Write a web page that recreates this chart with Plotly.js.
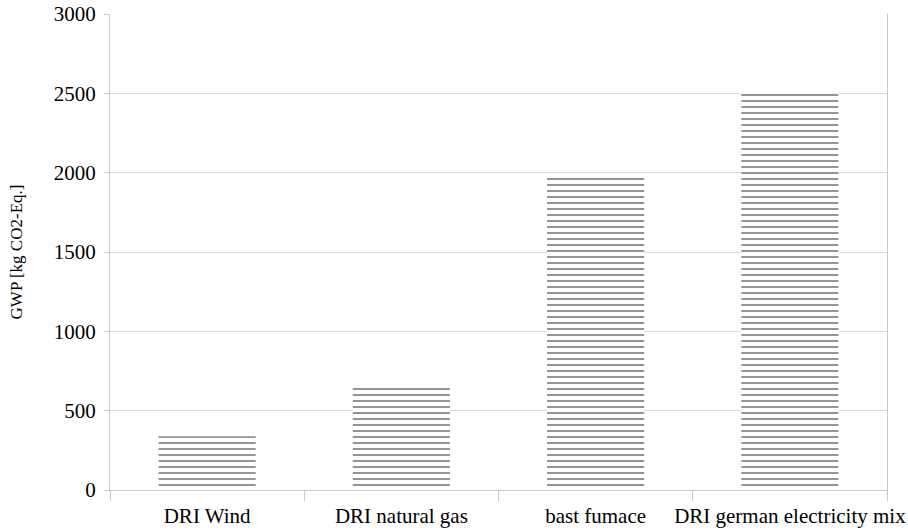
<!DOCTYPE html>
<html>
<head>
<meta charset="utf-8">
<script src="https://cdn.plot.ly/plotly-3.0.1.min.js"></script>
<style>html,body{margin:0;padding:0;background:#fff;}#chart{width:908px;height:532px;}</style>
</head>
<body>
<div id="chart"></div>
<script>
const categories = ["DRI Wind", "DRI natural gas", "bast fumace", "DRI german electricity mix"];
const gwpValues = [338, 655, 1988, 2518];
const yTickValues = [0, 500, 1000, 1500, 2000, 2500, 3000];
const yTitle = "GWP [kg CO2-Eq.]";

const serif = "'Liberation Serif', 'Times New Roman', serif";

const trace = {
  type: "bar",
  x: categories,
  y: gwpValues,
  width: 0.5,
  marker: {
    color: "#ffffff",
    line: {width: 0},
    pattern: {shape: "-", fgcolor: "#111111", bgcolor: "#ffffff", size: 6, solidity: 0.3, fillmode: "overlay"}
  },
  hoverinfo: "x+y"
};

const layout = {
  width: 908, height: 532,
  margin: {l: 110, r: 21, t: 14, b: 42},
  paper_bgcolor: "#ffffff",
  plot_bgcolor: "#ffffff",
  font: {family: serif, color: "#000", size: 21},
  showlegend: false,
  bargap: 0.5,
  xaxis: {
    type: "category",
    showgrid: false,
    showline: true,
    linecolor: "#c8c8c8",
    linewidth: 1,
    ticks: "outside",
    tickson: "boundaries",
    ticklen: 10,
    tickcolor: "#c8c8c8",
    tickangle: 0,
    ticklabelstandoff: 7,
    tickfont: {size: 21, family: serif},
    automargin: false,
    range: [-0.5, 3.5],
    zeroline: false
  },
  yaxis: {
    range: [0, 3000],
    tickvals: yTickValues,
    ticktext: yTickValues.map(String),
    showgrid: true,
    gridcolor: "#d9d9d9",
    gridwidth: 1,
    showline: true,
    linecolor: "#c8c8c8",
    mirror: true,
    ticks: "outside",
    ticklen: 5,
    tickcolor: "#c8c8c8",
    ticklabelstandoff: 4,
    zeroline: false,
    automargin: false,
    tickfont: {size: 21, family: serif},
    title: {text: yTitle, font: {size: 17, family: serif}, standoff: 26}
  }
};

Plotly.newPlot("chart", [trace], layout, {displayModeBar: false, staticPlot: true});
</script>
</body>
</html>
